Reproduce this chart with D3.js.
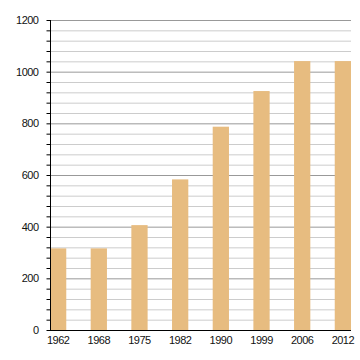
<!DOCTYPE html>
<html><head><meta charset="utf-8">
<script src="https://cdn.jsdelivr.net/npm/d3@7"></script>
<style>body{margin:0;background:#fff}svg{display:block}text{font-family:"Liberation Sans",Arial,sans-serif;font-size:11px;fill:#111;letter-spacing:-0.5px}</style>
</head><body>
<script>
const years = ["1962","1968","1975","1982","1990","1999","2006","2012"];
const values = [316, 316, 406, 583, 787, 925, 1041, 1041];
const yMajorTicks = [0,200,400,600,800,1000,1200];

const W=360,H=360, L=50, R=351, T=20, B=330;
const svg=d3.select("body").append("svg").attr("width",W).attr("height",H);
const x=d3.scaleBand().domain(years).range([L,R]).paddingInner(0.6).paddingOuter(0);
const y=d3.scaleLinear().domain([0,1200]).range([B,T]);
const minor=d3.range(0,1201,40);

svg.append("g").selectAll("line").data(minor.filter(v=>v>0)).join("line")
  .attr("x1",L).attr("x2",R).attr("y1",d=>y(d)+0.5).attr("y2",d=>y(d)+0.5)
  .attr("stroke",d=>d%200===0?"#999":"#ccc").attr("stroke-width",1);

svg.append("g").selectAll("rect").data(values).join("rect")
  .attr("x",(d,i)=>x(years[i])).attr("width",x.bandwidth())
  .attr("y",d=>y(d)).attr("height",d=>B-y(d)).attr("fill","#E7BC80");

const ya=svg.append("g").attr("transform",`translate(${L+0.5},0)`);
ya.call(d3.axisLeft(y).tickValues(minor).tickSize(4).tickFormat(""));
ya.select(".domain").remove();
ya.selectAll("line").attr("stroke","#000");
ya.append("line").attr("x1",0).attr("x2",0).attr("y1",T).attr("y2",B).attr("stroke","#000");
ya.selectAll("text.lab").data(yMajorTicks).join("text").attr("class","lab")
  .attr("x",-12).attr("y",d=>y(d)+4).attr("text-anchor","end").text(d=>d);

const xa=svg.append("g").attr("transform",`translate(0,${B+0.5})`);
xa.call(d3.axisBottom(x).tickSize(0).tickPadding(6));
xa.select(".domain").attr("stroke","#000").attr("d",`M${L},0H${R}`);
xa.selectAll("text").attr("font-family",null).attr("font-size",null).attr("fill",null);
</script>
</body></html>
